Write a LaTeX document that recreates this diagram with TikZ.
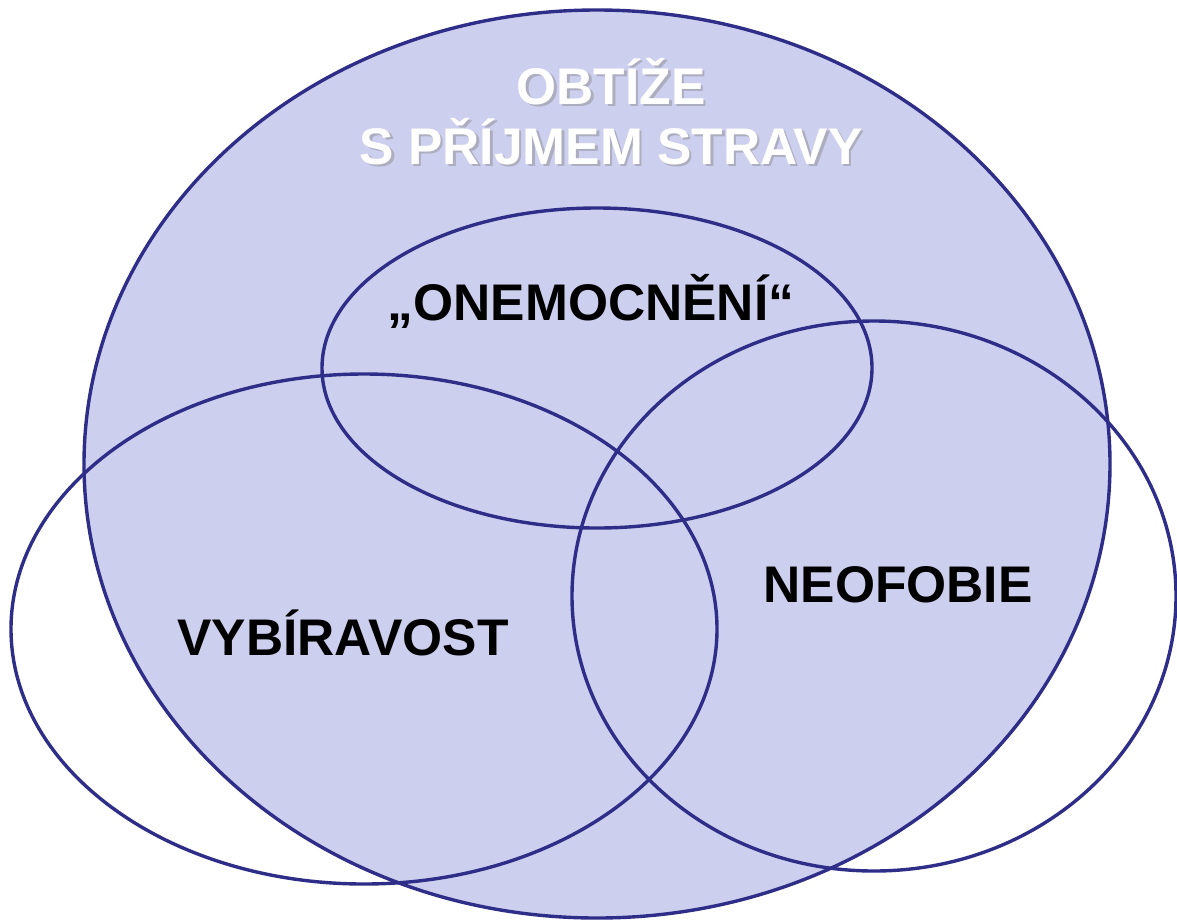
\documentclass[tikz,border=0pt]{standalone}
\usepackage{fontspec}
\setmainfont{Liberation Sans}
\definecolor{fillc}{HTML}{CDCFEE}
\definecolor{linec}{HTML}{2E2E88}
\definecolor{shadowc}{HTML}{ADADC0}
\begin{document}
\begin{tikzpicture}[x=1pt,y=-1pt,
  ring/.style={draw=linec,line width=3.4pt},
  label/.style={font=\fontsize{51.5}{58}\selectfont\bfseries,inner sep=0pt,anchor=base}]
\useasboundingbox (0,0) rectangle (1177,919);
\fill[white] (0,0) rectangle (1177,919);
% big ellipse
\path[ring,fill=fillc] (597,464) ellipse [x radius=513, y radius=454];
% inner ellipses
\path[ring] (597,368) ellipse [x radius=275, y radius=160];
\path[ring] (364,629) ellipse [x radius=353, y radius=255];
\path[ring] (874,596) ellipse [x radius=302, y radius=275];
% title with shadow
\node[label,text=shadowc] at (613.5,106.5) {OBTÍŽE};
\node[label,text=white] (t1) at (611,104) {OBTÍŽE};
\node[label,text=shadowc] at (613.5,166.5) {S PŘÍJMEM STRAVY};
\node[label,text=white] (t2) at (611,164) {S PŘÍJMEM STRAVY};
% labels
\node[label] (onem) at (591,320) {„ONEMOCNĚNÍ“};
\node[label] (vyb) at (343,655) {VYBÍRAVOST};
\node[label] (neo) at (898,602) {NEOFOBIE};
\end{tikzpicture}
\end{document}
